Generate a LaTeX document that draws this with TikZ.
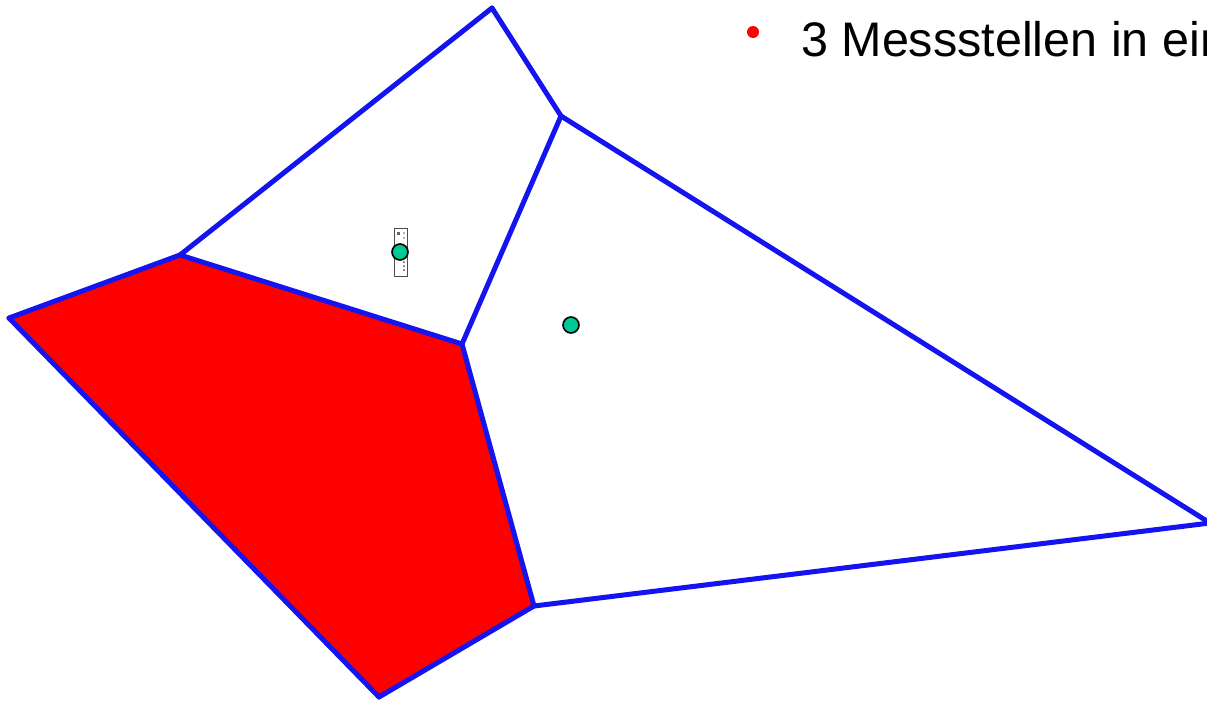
\documentclass[tikz,border=0pt]{standalone}
\usepackage{fontspec}
\setmainfont{Liberation Sans}
\definecolor{edgeblue}{RGB}{20,20,240}
\definecolor{cellred}{RGB}{255,0,0}
\definecolor{sitegreen}{RGB}{0,200,150}
\tikzset{
  edge/.style={draw=edgeblue, line width=5pt, line cap=round, line join=round},
  site/.style={circle, draw=black, line width=1.6pt, fill=sitegreen, minimum size=16pt, inner sep=0pt},
}
\begin{document}
\begin{tikzpicture}[x=1pt,y=-1pt]
\useasboundingbox (0,0) rectangle (1207,702);
\coordinate (A) at (492,8);
\coordinate (B) at (561,116);
\coordinate (C) at (180,255);
\coordinate (D) at (9,318);
\coordinate (E) at (462,344);
\coordinate (F) at (534,606);
\coordinate (G) at (379,697);
\coordinate (H) at (1210,523);
% red cell
\fill[cellred] (D) -- (C) -- (E) -- (F) -- (G) -- cycle;
% edges
\draw[edge] (A) -- (B);
\draw[edge] (A) -- (C);
\draw[edge] (B) -- (E);
\draw[edge] (C) -- (E);
\draw[edge] (C) -- (D);
\draw[edge] (D) -- (G);
\draw[edge] (G) -- (F);
\draw[edge] (E) -- (F);
\draw[edge] (F) -- (H);
\draw[edge] (B) -- (H);
% small box
\node[draw=black!70, line width=0.8pt, fill=white, minimum width=13pt, minimum height=48pt, inner sep=0pt] (box) at (401,252) {};
\fill[black!60] (397,232) rectangle (400,235);
\fill[black!60] (404,233) circle (0.8);
\fill[black!60] (404,238) circle (0.8);
\fill[black!70] (404,262) circle (1);
\fill[black!70] (404,266) circle (1);
\fill[black!70] (404,270) circle (1);
\node[site] (s1) at (400,252) {};
\node[site] (s2) at (571,325) {};
% legend
\fill[cellred] (753,32) circle (6);
\node[anchor=base west, inner sep=0pt, font=\fontsize{48.5}{52}\selectfont] (txt) at (801,56) {3 Messstellen in ein};
\end{tikzpicture}
\end{document}
